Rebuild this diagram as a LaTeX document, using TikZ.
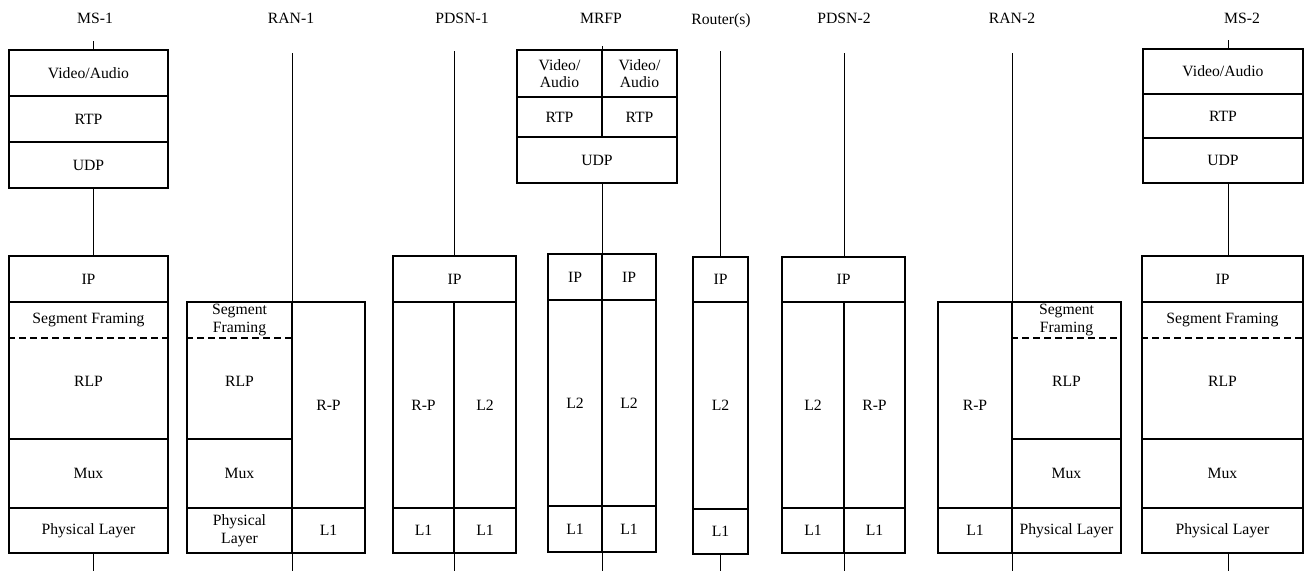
\documentclass[tikz,border=0pt]{standalone}
\usepackage{fontspec}
\setmainfont{Liberation Serif}
\usetikzlibrary{positioning}
\tikzset{
	cell/.style={draw, line width=1.1pt, inner sep=0pt, align=center, font=\fontsize{15.7}{17.7}\selectfont},
	title/.style={font=\fontsize{15.7}{17.7}\selectfont},
	label/.style={font=\fontsize{15.7}{17.7}\selectfont, align=center, inner sep=0pt},
	wire/.style={line width=1pt},
	split/.style={line width=2.3pt, dash pattern=on 7pt off 4pt},
}
% name, x1, y1, x2, y2, text (y grows downwards)
\newcommand{\layerbox}[6]{%
	\node[cell, minimum width={(#4-#2)*1pt}, minimum height={(#5-#3)*1pt}] (#1) at ({(#2+#4)/2},{(#3+#5)/2}) {#6};}

\begin{document}
\begin{tikzpicture}[x=1pt, y=-1pt]
		\useasboundingbox (0,0) rectangle (1310,571);
		% titles
		\node[title] (ms1) at (95,18) {MS-1};
		\node[title] (ran1) at (291,18) {RAN-1};
		\node[title] (pdsn1) at (462,18) {PDSN-1};
		\node[title] (mrfp) at (601,18) {MRFP};
		\node[title] (router) at (721,21) {Router(s)};
		\node[title] (pdsn2) at (844,18) {PDSN-2};
		\node[title] (ran2) at (1012,18) {RAN-2};
		\node[title] (ms2) at (1242,18) {MS-2};

		% MS-1
		\layerbox{msaVA}{9}{50}{168}{96}{Video/Audio}
		\layerbox{msaRTP}{9}{96}{168}{142}{RTP}
		\layerbox{msaUDP}{9}{142}{168}{188}{UDP}
		\layerbox{msaIP}{9}{256}{168}{302}{IP}
		\layerbox{msaRLP}{9}{302}{168}{439}{}
		\node[label] (msaSF) at (88.5,320) {Segment Framing};
		\node[label] (msaRLPtext) at (88.5,381) {RLP};
		\draw[split] (msaRLP.west |- 0,338) -- (msaRLP.east |- 0,338);
		\layerbox{msaMux}{9}{439}{168}{508}{Mux}
		\layerbox{msaPhy}{9}{508}{168}{553}{Physical Layer}

		% RAN-1
		\layerbox{ranaRLP}{187}{302}{292}{439}{}
		\node[label] (ranaSF) at (239.5,320) {Segment\\Framing};
		\node[label] (ranaRLPtext) at (239.5,381) {RLP};
		\draw[split] (ranaRLP.west |- 0,338) -- (ranaRLP.east |- 0,338);
		\layerbox{ranaMux}{187}{439}{292}{508}{Mux}
		\layerbox{ranaPhy}{187}{508}{292}{553}{Physical\\Layer}
		\layerbox{ranaRP}{292}{302}{365}{508}{R-P}
		\layerbox{ranaL1}{292}{508}{365}{553}{L1}

		% PDSN-1
		\layerbox{pdsnaIP}{393}{256}{516}{302}{IP}
		\layerbox{pdsnaRP}{393}{302}{454}{508}{R-P}
		\layerbox{pdsnaL2}{454}{302}{516}{508}{L2}
		\layerbox{pdsnaL1a}{393}{508}{454}{553}{L1}
		\layerbox{pdsnaL1b}{454}{508}{516}{553}{L1}

		% MRFP
		\layerbox{mrfpVAa}{517}{50}{602}{97}{Video/\\Audio}
		\layerbox{mrfpVAb}{602}{50}{677}{97}{Video/\\Audio}
		\layerbox{mrfpRTPa}{517}{97}{602}{137}{RTP}
		\layerbox{mrfpRTPb}{602}{97}{677}{137}{RTP}
		\layerbox{mrfpUDP}{517}{137}{677}{183}{UDP}
		\layerbox{mrfpIPa}{548}{254}{602}{300}{IP}
		\layerbox{mrfpIPb}{602}{254}{656}{300}{IP}
		\layerbox{mrfpL2a}{548}{300}{602}{506}{L2}
		\layerbox{mrfpL2b}{602}{300}{656}{506}{L2}
		\layerbox{mrfpL1a}{548}{506}{602}{552}{L1}
		\layerbox{mrfpL1b}{602}{506}{656}{552}{L1}

		% Router(s)
		\layerbox{rtIP}{693}{257}{748}{302}{IP}
		\layerbox{rtL2}{693}{302}{748}{509}{L2}
		\layerbox{rtL1}{693}{509}{748}{554}{L1}

		% PDSN-2
		\layerbox{pdsnbIP}{782}{257}{905}{302}{IP}
		\layerbox{pdsnbL2}{782}{302}{844}{508}{L2}
		\layerbox{pdsnbRP}{844}{302}{905}{508}{R-P}
		\layerbox{pdsnbL1a}{782}{508}{844}{553}{L1}
		\layerbox{pdsnbL1b}{844}{508}{905}{553}{L1}

		% RAN-2
		\layerbox{ranbRP}{938}{302}{1012}{508}{R-P}
		\layerbox{ranbL1}{938}{508}{1012}{553}{L1}
		\layerbox{ranbRLP}{1012}{302}{1121}{439}{}
		\node[label] (ranbSF) at (1066.5,320) {Segment\\Framing};
		\node[label] (ranbRLPtext) at (1066.5,381) {RLP};
		\draw[split] (ranbRLP.west |- 0,338) -- (ranbRLP.east |- 0,338);
		\layerbox{ranbMux}{1012}{439}{1121}{508}{Mux}
		\layerbox{ranbPhy}{1012}{508}{1121}{553}{Physical Layer}

		% MS-2
		\layerbox{msbVA}{1143}{49}{1303}{94}{Video/Audio}
		\layerbox{msbRTP}{1143}{94}{1303}{138}{RTP}
		\layerbox{msbUDP}{1143}{138}{1303}{183}{UDP}
		\layerbox{msbIP}{1142}{256}{1303}{302}{IP}
		\layerbox{msbRLP}{1142}{302}{1303}{439}{}
		\node[label] (msbSF) at (1222.5,320) {Segment Framing};
		\node[label] (msbRLPtext) at (1222.5,381) {RLP};
		\draw[split] (msbRLP.west |- 0,338) -- (msbRLP.east |- 0,338);
		\layerbox{msbMux}{1142}{439}{1303}{508}{Mux}
		\layerbox{msbPhy}{1142}{508}{1303}{553}{Physical Layer}

		% vertical lines
		\coordinate (msaTop) at (93,41);
		\coordinate (msaBot) at (93,571);
		\coordinate (ranaTop) at (292,53);
		\coordinate (ranaBot) at (292,571);
		\coordinate (pdsnaTop) at (454,51);
		\coordinate (pdsnaBot) at (454,571);
		\coordinate (mrfpTop) at (602,46);
		\coordinate (mrfpBot) at (602,571);
		\coordinate (rtTop) at (720,51);
		\coordinate (rtBot) at (720,571);
		\coordinate (pdsnbTop) at (844,53);
		\coordinate (pdsnbBot) at (844,571);
		\coordinate (ranbTop) at (1012,53);
		\coordinate (ranbBot) at (1012,571);
		\coordinate (msbTop) at (1228,40);
		\coordinate (msbBot) at (1228,571);

		\draw[wire] (msaTop) -- (msaTop |- msaVA.north);
		\draw[wire] (msaTop |- msaUDP.south) -- (msaTop |- msaIP.north);
		\draw[wire] (msaTop |- msaPhy.south) -- (msaBot);
		\draw[wire] (ranaTop) -- (ranaBot);
		\draw[wire] (pdsnaTop) -- (pdsnaTop |- pdsnaIP.north);
		\draw[wire] (pdsnaTop |- pdsnaL1a.south) -- (pdsnaBot);
		\draw[wire] (mrfpTop) -- (mrfpTop |- mrfpVAb.north);
		\draw[wire] (mrfpTop |- mrfpUDP.south) -- (mrfpTop |- mrfpIPb.north);
		\draw[wire] (mrfpTop |- mrfpL1b.south) -- (mrfpBot);
		\draw[wire] (rtTop) -- (rtTop |- rtIP.north);
		\draw[wire] (rtTop |- rtL1.south) -- (rtBot);
		\draw[wire] (pdsnbTop) -- (pdsnbTop |- pdsnbIP.north);
		\draw[wire] (pdsnbTop |- pdsnbL1a.south) -- (pdsnbBot);
		\draw[wire] (ranbTop) -- (ranbBot);
		\draw[wire] (msbTop) -- (msbTop |- msbVA.north);
		\draw[wire] (msbTop |- msbUDP.south) -- (msbTop |- msbIP.north);
		\draw[wire] (msbTop |- msbPhy.south) -- (msbBot);
\end{tikzpicture}
\end{document}
